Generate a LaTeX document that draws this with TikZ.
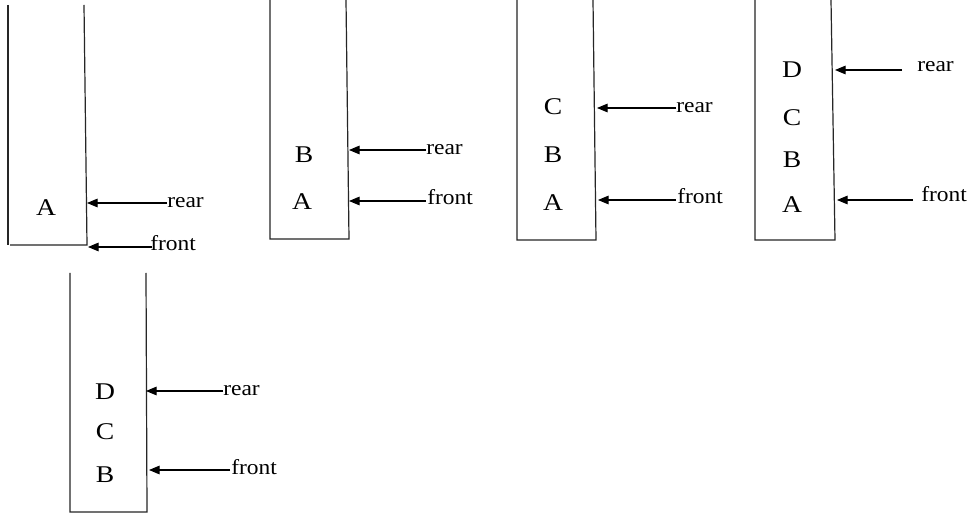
\documentclass[tikz,border=0pt]{standalone}
\usepackage{fontspec}
\setmainfont{Liberation Serif}
\usetikzlibrary{arrows.meta}
\begin{document}
\begin{tikzpicture}[x=0.75pt,y=-0.75pt,
  wall/.style={draw=black!85, line width=0.9pt},
  item/.style={font=\fontsize{18}{18}\selectfont, xscale=1.15, inner sep=0pt},
  lbl/.style={font=\fontsize{16}{16}\selectfont, xscale=1.1, inner sep=0pt, anchor=base west},
  ptr/.style={-{Triangle[length=8pt,width=6.5pt]}, line width=0.8pt, black}]
\useasboundingbox (0,0) rectangle (974,516);
\fill[white] (0,0) rectangle (974,516);

% ---- queue 1 ----
\draw[wall] (8,5) -- (8,245);
\draw[wall] (10,245) -- (87,245) -- (84,5);
\node[item] (q1a) at (46,208) {A};
\coordinate (w1r) at (87,203);
\coordinate (w1f) at (88,247);
\coordinate (s1r) at (167,203);
\coordinate (s1f) at (152,247);
\node[lbl] (l1r) at (167,207.5) {rear};
\node[lbl] (l1f) at (150,251) {front};
\draw[ptr] (s1r) -- (w1r);
\draw[ptr] (s1f) -- (w1f);

% ---- queue 2 ----
\draw[wall] (270,0) -- (270,239) -- (349,239) -- (346,0);
\node[item] (q2b) at (304,155) {B};
\node[item] (q2a) at (302,202) {A};
\coordinate (w2r) at (349,150);
\coordinate (w2f) at (349,201);
\coordinate (s2r) at (426,150);
\coordinate (s2f) at (426,201);
\node[lbl] (l2r) at (426,154.5) {rear};
\node[lbl] (l2f) at (427,205) {front};
\draw[ptr] (s2r) -- (w2r);
\draw[ptr] (s2f) -- (w2f);

% ---- queue 3 ----
\draw[wall] (517,0) -- (517,240) -- (596,240) -- (593,0);
\node[item] (q3c) at (553,107) {C};
\node[item] (q3b) at (553,155) {B};
\node[item] (q3a) at (553,203) {A};
\coordinate (w3r) at (597,108);
\coordinate (w3f) at (598,200);
\coordinate (s3r) at (676,108);
\coordinate (s3f) at (676,200);
\node[lbl] (l3r) at (676,112.5) {rear};
\node[lbl] (l3f) at (677,204) {front};
\draw[ptr] (s3r) -- (w3r);
\draw[ptr] (s3f) -- (w3f);

% ---- queue 4 ----
\draw[wall] (755,0) -- (755,240) -- (835,240) -- (831,0);
\node[item] (q4d) at (792,70) {D};
\node[item] (q4c) at (792,118) {C};
\node[item] (q4b) at (792,160) {B};
\node[item] (q4a) at (792,205) {A};
\coordinate (w4r) at (835,70);
\coordinate (w4f) at (837,200);
\coordinate (s4r) at (902,70);
\coordinate (s4f) at (913,200);
\node[lbl] (l4r) at (917,72) {rear};
\node[lbl] (l4f) at (921,202) {front};
\draw[ptr] (s4r) -- (w4r);
\draw[ptr] (s4f) -- (w4f);

% ---- queue 5 ----
\draw[wall] (70,273) -- (70,512) -- (147,512) -- (146,273);
\node[item] (q5d) at (105,392) {D};
\node[item] (q5c) at (105,432) {C};
\node[item] (q5b) at (105,475) {B};
\coordinate (w5r) at (146,391);
\coordinate (w5f) at (149,470);
\coordinate (s5r) at (223,391);
\coordinate (s5f) at (230,470);
\node[lbl] (l5r) at (223,395.5) {rear};
\node[lbl] (l5f) at (231,474.5) {front};
\draw[ptr] (s5r) -- (w5r);
\draw[ptr] (s5f) -- (w5f);
\end{tikzpicture}
\end{document}
